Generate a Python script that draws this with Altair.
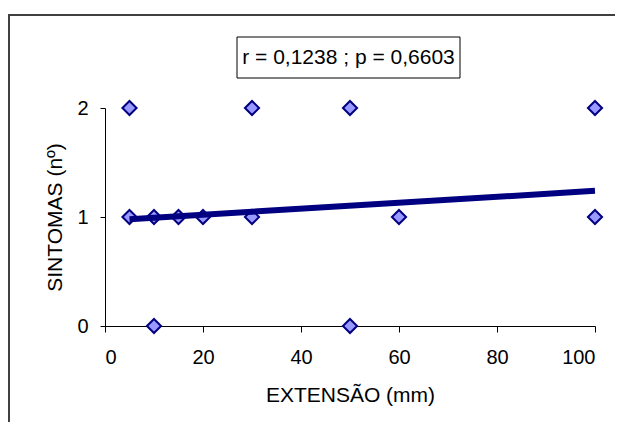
import altair as alt
import pandas as pd

# Data
extensao = [5, 5, 10, 10, 15, 20, 30, 30, 50, 50, 60, 100, 100]
sintomas = [2, 1, 1, 0, 1, 1, 2, 1, 2, 0, 1, 2, 1]
trend_x = [5, 100]
trend_y = [0.98, 1.24]
x_ticks = [0, 20, 40, 60, 80, 100]
y_ticks = [0, 1, 2]
annotation = "r = 0,1238 ; p = 0,6603"

pts = pd.DataFrame({"x": extensao, "y": sintomas})
trend = pd.DataFrame({"x": trend_x, "y": trend_y})
note = pd.DataFrame({"t": [annotation]})

FONT = "Liberation Sans"

xscale = alt.Scale(domain=[0, 100], nice=False, zero=False)
yscale = alt.Scale(domain=[0, 2], nice=False, zero=False)

xaxis = alt.Axis(values=x_ticks, orient="bottom", grid=False, title="EXTENSÃO (mm)",
                 tickSize=6, labelPadding=15, labelFontSize=20,
                 titleFontSize=21, titleFontWeight="normal",
                 titleBaseline="middle", titleY=69, labelOverlap=False,
                 domainColor="black", tickColor="black", format=".0f",
                 labelColor="black", titleColor="black", labelFont=FONT, titleFont=FONT)
yaxis = alt.Axis(values=y_ticks, orient="left", grid=False, title="SINTOMAS (nº)",
                 tickSize=5, labelPadding=12, labelFontSize=20, labelAlign="right",
                 labelBaseline="middle",
                 titleFontSize=21, titleFontWeight="normal",
                 titleBaseline="middle", titleX=-50, titleAngle=-90,
                 labelOverlap=False, format=".0f",
                 domainColor="black", tickColor="black",
                 labelColor="black", titleColor="black", labelFont=FONT, titleFont=FONT)

frame_top = alt.Chart(note).mark_rule(stroke="#404040", strokeWidth=2).encode(
    x=alt.value(-97), x2=alt.value(540), y=alt.value(-93)
)
frame_left = alt.Chart(note).mark_rule(stroke="#404040", strokeWidth=2).encode(
    x=alt.value(-96), y=alt.value(-94), y2=alt.value(400)
)

box = alt.Chart(note).mark_rect(fill="white", stroke="black", strokeWidth=1).encode(
    x=alt.value(132), x2=alt.value(355), y=alt.value(-71), y2=alt.value(-30)
)

label = alt.Chart(note).mark_text(fontSize=21, font=FONT, color="black",
                                  baseline="middle", align="center").encode(
    x=alt.value(243.5), y=alt.value(-50), text="t:N"
)

points = alt.Chart(pts).mark_point(
    shape="diamond", filled=True, fill="#9999FF", stroke="#000080",
    strokeWidth=2, size=200, opacity=1
).encode(
    x=alt.X("x:Q", scale=xscale, axis=xaxis),
    y=alt.Y("y:Q", scale=yscale, axis=yaxis),
)

line = alt.Chart(trend).mark_line(color="#000080", strokeWidth=6).encode(
    x=alt.X("x:Q", scale=xscale, axis=None),
    y=alt.Y("y:Q", scale=yscale, axis=None),
)

chart = alt.layer(frame_top, frame_left, box, label, points, line).resolve_axis(
    x="independent", y="independent"
).properties(
    width=490, height=218,
    autosize=alt.AutoSizeParams(type="none"),
    padding={"left": 97, "top": 100, "right": 20, "bottom": 96},
    background="white",
).configure(font=FONT).configure_view(stroke=None)

chart.save("out.html", embed_options={"renderer": "svg", "actions": False})
